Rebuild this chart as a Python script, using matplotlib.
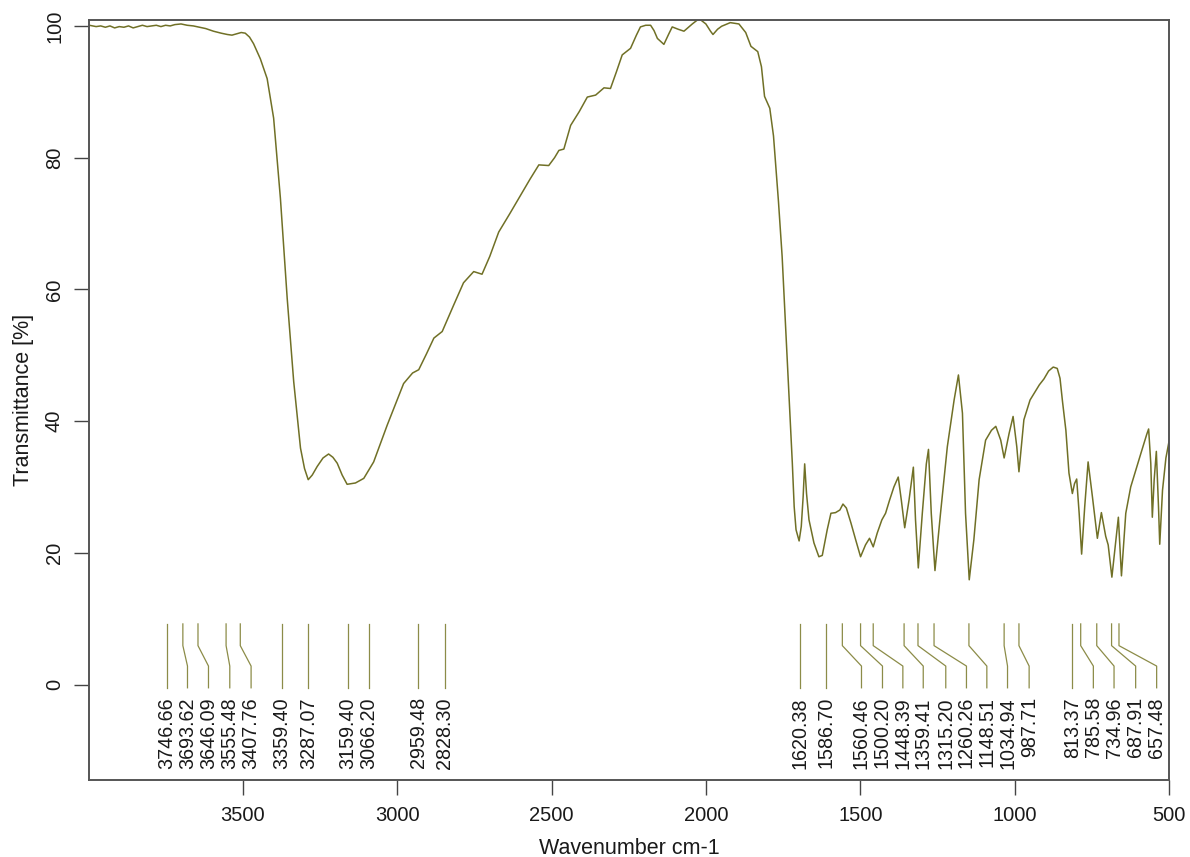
import numpy as np
import matplotlib.pyplot as plt

plt.rcParams['font.family'] = ['Liberation Sans', 'DejaVu Sans']

# spectrum, ten points per row
wavenumber = [3997, 3975, 3960, 3945, 3930, 3915, 3900, 3885, 3870, 3855,
              3840, 3825, 3810, 3795, 3780, 3765, 3750, 3735, 3720, 3700,
              3680, 3660, 3640, 3620, 3595, 3570, 3550, 3535, 3520, 3505,
              3492, 3478, 3465, 3443, 3421, 3400, 3378, 3356, 3335, 3313,
              3300, 3288, 3275, 3259, 3240, 3222, 3208, 3194, 3178, 3162,
              3135, 3108, 3076, 3032, 2979, 2950, 2930, 2905, 2881, 2854,
              2817, 2785, 2752, 2725, 2700, 2671, 2635, 2600, 2570, 2541,
              2509, 2490, 2476, 2460, 2438, 2410, 2384, 2357, 2330, 2309,
              2290, 2271, 2244, 2225, 2212, 2195, 2179, 2168, 2157, 2136,
              2120, 2109, 2090, 2071, 2044, 2022, 2000, 1985, 1977, 1962,
              1949, 1921, 1893, 1871, 1854, 1832, 1820, 1810, 1793, 1781,
              1765, 1753, 1742, 1731, 1720, 1714, 1708, 1698, 1691, 1685,
              1680, 1674, 1666, 1650, 1634, 1623, 1607, 1595, 1580, 1566,
              1556, 1545, 1530, 1515, 1499, 1483, 1470, 1458, 1445, 1430,
              1418, 1405, 1391, 1377, 1367, 1356, 1342, 1328, 1321, 1312,
              1299, 1286, 1279, 1270, 1258, 1240, 1218, 1196, 1182, 1169,
              1159, 1147, 1132, 1115, 1094, 1075, 1061, 1045, 1034, 1018,
              1005, 993, 986, 970, 950, 937, 920, 905, 890, 875,
              862, 853, 845, 834, 824, 813, 806, 799, 791, 783,
              773, 762, 748, 732, 719, 705, 697, 685, 672, 664,
              654, 640, 624, 608, 591, 572, 566, 559, 554, 548,
              541, 534, 530, 521, 510, 500]
transmittance = [100.1, 99.9, 100.0, 99.8, 100.0, 99.7, 99.9, 99.8, 100.0, 99.7,
                 99.9, 100.1, 99.9, 100.0, 100.1, 99.9, 100.1, 100.0, 100.2, 100.3,
                 100.1, 100.0, 99.8, 99.6, 99.2, 98.9, 98.7, 98.6, 98.8, 99.0,
                 98.9, 98.3, 97.3, 95.0, 92.0, 86.0, 73.8, 58.6, 46.0, 35.9,
                 32.8, 31.1, 31.8, 33.1, 34.4, 35.0, 34.5, 33.6, 31.8, 30.4,
                 30.6, 31.3, 33.8, 39.4, 45.7, 47.3, 47.8, 50.2, 52.6, 53.6,
                 57.6, 61.0, 62.7, 62.3, 65.0, 68.7, 71.5, 74.3, 76.7, 78.9,
                 78.8, 80.0, 81.1, 81.3, 84.9, 87.0, 89.2, 89.5, 90.6, 90.5,
                 93.0, 95.6, 96.6, 98.6, 99.85, 100.1, 100.1, 99.3, 98.1, 97.2,
                 98.8, 99.85, 99.5, 99.2, 100.3, 101.1, 100.3, 99.2, 98.7, 99.5,
                 99.95, 100.5, 100.3, 99.0, 96.9, 96.1, 93.8, 89.3, 87.5, 83.3,
                 73.4, 65.0, 54.5, 44.1, 33.6, 27.0, 23.5, 21.8, 24.0, 28.5,
                 33.5, 29.0, 25.0, 21.5, 19.4, 19.6, 23.5, 26.0, 26.1, 26.5,
                 27.4, 26.8, 24.5, 22.0, 19.4, 21.2, 22.2, 20.9, 23.0, 25.0,
                 26.0, 28.0, 30.0, 31.5, 28.0, 23.8, 28.0, 33.0, 25.0, 17.7,
                 26.0, 33.5, 35.7, 26.0, 17.3, 26.0, 36.1, 43.2, 47.0, 41.2,
                 26.0, 15.9, 22.0, 31.1, 37.1, 38.6, 39.2, 37.1, 34.4, 38.1,
                 40.7, 36.1, 32.3, 40.2, 43.2, 44.2, 45.5, 46.4, 47.6, 48.2,
                 48.0, 46.5, 43.0, 38.6, 32.1, 29.0, 30.5, 31.2, 26.0, 19.8,
                 27.0, 33.8, 28.5, 22.2, 26.1, 22.5, 21.2, 16.3, 22.0, 25.4,
                 16.5, 26.0, 30.0, 32.5, 35.1, 38.0, 38.8, 33.6, 25.4, 31.1,
                 35.4, 27.0, 21.3, 29.5, 34.4, 36.9]

# picked peaks: label text, line position at the top and at the label
peak_labels = ['3746.66', '3693.62', '3646.09', '3555.48', '3407.76', '3359.40', '3287.07',
               '3159.40', '3066.20', '2959.48', '2828.30', '1620.38', '1586.70', '1560.46',
               '1500.20', '1448.39', '1359.41', '1315.20', '1260.26', '1148.51', '1034.94',
               '987.71', '813.37', '785.58', '734.96', '687.91', '657.48']
peak_top = [3745, 3694, 3645, 3554, 3508, 3373, 3288, 3159, 3092, 2932, 2846, 1696, 1610,
            1558, 1499, 1458, 1358, 1313, 1261, 1148, 1034, 986, 813, 786, 734, 686, 662]
peak_bottom = [3745, 3679, 3611, 3542, 3473, 3373, 3288, 3159, 3092, 2932, 2846, 1696, 1610,
               1496, 1428, 1362, 1296, 1223, 1156, 1090, 1023, 953, 813, 745, 678, 608, 540]

col = '#707026'
fig = plt.figure(figsize=(11.9, 8.57), dpi=100)
ax = fig.add_axes([89 / 1190, 1 - 780 / 857, (1169 - 89) / 1190, (780 - 20) / 857])

ax.plot(wavenumber, transmittance, color=col, lw=1.1)

for lab, xt, xb in zip(peak_labels, peak_top, peak_bottom):
    ax.plot([xt, xt, xb, xb], [9.2, 5.9, 2.8, -0.5], color='#8c8c48', lw=0.9)
    ax.text(xb, -1.9, lab, rotation=90, ha='center', va='top', fontsize=14.2, color='#1a1a1a')

ax.set_xlim(3998, 500)
ax.set_ylim(-14.5, 100.9)
ax.set_xticks([3500, 3000, 2500, 2000, 1500, 1000, 500])
ax.set_yticks([0, 20, 40, 60, 80, 100])
ax.tick_params(axis='x', length=11, width=1, pad=8, labelsize=14.5, colors='#444444',
               labelcolor='#1a1a1a')
ax.tick_params(axis='y', length=11, width=1, pad=7, labelsize=14.5, colors='#444444',
               labelcolor='#1a1a1a', labelrotation=90)
for lbl in ax.get_yticklabels():
    lbl.set_va('center')
for s in ax.spines.values():
    s.set_color('#555555')
    s.set_linewidth(1.4)

ax.set_xlabel('Wavenumber cm-1', fontsize=15.5, labelpad=9, color='#1a1a1a')
ax.set_ylabel('Transmittance [%]', fontsize=15.5, labelpad=8, color='#1a1a1a')

fig.savefig('out.png', dpi=100)
